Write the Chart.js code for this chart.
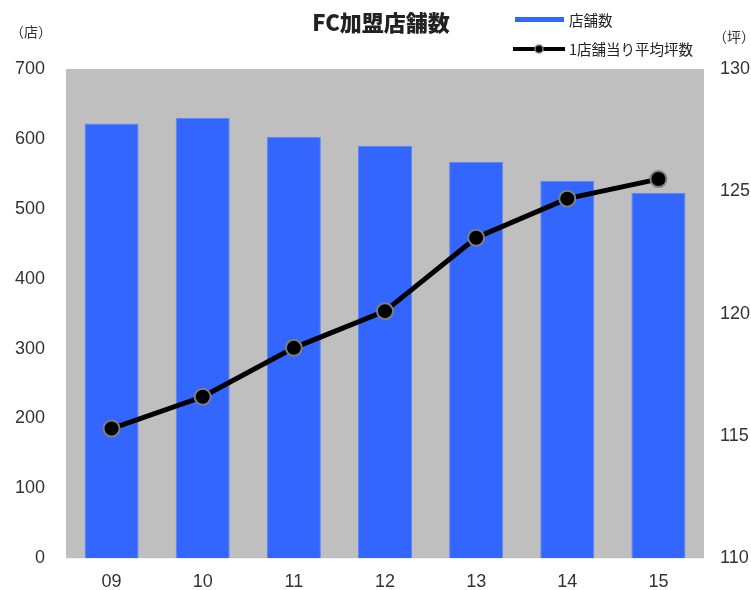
<!DOCTYPE html>
<html>
<head>
<meta charset="utf-8">
<script src="https://cdn.jsdelivr.net/npm/chart.js@4.4.1/dist/chart.umd.min.js"></script>
<style>
  html, body { margin: 0; padding: 0; background: #fff; }
  #wrap { position: relative; width: 751px; height: 590px; }
</style>
</head>
<body>
<div id="wrap"><canvas id="c" width="751" height="590"></canvas></div>
<script>
const title = 'FC加盟店舗数';
const categories = ['09', '10', '11', '12', '13', '14', '15'];
const storeLabel = '店舗数';
const storeCounts = [622, 630, 603, 590, 567, 540, 523];
const areaLabel = '1店舗当り平均坪数';
const avgArea = [115.3, 116.6, 118.6, 120.1, 123.1, 124.7, 125.5];
const leftUnit = '（店）';
const rightUnit = '（坪）';
const leftTicks = { min: 0, max: 700, step: 100 };
const rightTicks = { min: 110, max: 130, step: 5 };

const TICK_FONT = { family: "'Liberation Sans', Arial, sans-serif", size: 18 };
const JP_FONT = "'Noto Sans CJK JP', 'Noto Sans', sans-serif";

const decorPlugin = {
  id: 'decor',
  beforeDraw(chart) {
    const { ctx, chartArea: a } = chart;
    ctx.save();
    ctx.fillStyle = '#BFBFBF';
    ctx.fillRect(a.left, a.top, a.right - a.left, a.bottom - a.top);
    ctx.restore();
  },
  afterDraw(chart) {
    const { ctx } = chart;
    ctx.save();
    // title
    ctx.fillStyle = '#222';
    ctx.font = "900 22px " + JP_FONT;
    ctx.textAlign = 'center';
    ctx.textBaseline = 'middle';
    ctx.fillText(title, 381, 23);
    // units
    ctx.fillStyle = '#333';
    ctx.font = "14px " + JP_FONT;
    ctx.textAlign = 'left';
    ctx.fillText(leftUnit, 10, 32);
    ctx.fillText(rightUnit, 713, 37);
    // legend
    ctx.fillStyle = '#3366FF';
    ctx.fillRect(515, 17, 49, 5);
    ctx.strokeStyle = '#000';
    ctx.lineWidth = 4;
    ctx.beginPath();
    ctx.moveTo(513, 49);
    ctx.lineTo(565, 49);
    ctx.stroke();
    ctx.beginPath();
    ctx.arc(539, 49, 4, 0, Math.PI * 2);
    ctx.fillStyle = '#000';
    ctx.fill();
    ctx.lineWidth = 1.5;
    ctx.strokeStyle = '#808080';
    ctx.stroke();
    ctx.fillStyle = '#222';
    ctx.font = "14.5px " + JP_FONT;
    ctx.textAlign = 'left';
    ctx.textBaseline = 'middle';
    ctx.fillText(storeLabel, 569, 20);
    ctx.fillText(areaLabel, 569, 49);
    ctx.restore();
  }
};

new Chart(document.getElementById('c'), {
  type: 'bar',
  data: {
    labels: categories,
    datasets: [
      {
        type: 'line',
        label: areaLabel,
        data: avgArea,
        yAxisID: 'y1',
        order: 0,
        borderColor: '#000',
        borderWidth: 5,
        pointRadius: 8,
        pointBackgroundColor: '#000',
        pointBorderColor: '#7f7f7f',
        pointBorderWidth: 2,
        tension: 0,
        clip: false
      },
      {
        type: 'bar',
        label: storeLabel,
        data: storeCounts,
        yAxisID: 'y',
        order: 1,
        backgroundColor: '#3366FF',
        borderColor: '#5f86f5',
        borderWidth: 1,
        barPercentage: 0.593,
        categoryPercentage: 1.0
      }
    ]
  },
  options: {
    responsive: false,
    animation: false,
    events: [],
    layout: { padding: { top: 69, left: 0, right: 0, bottom: 0 } },
    plugins: {
      legend: { display: false },
      title: { display: false },
      tooltip: { enabled: false }
    },
    scales: {
      x: {
        grid: { display: false, drawTicks: false },
        border: { display: false },
        ticks: { color: '#333', font: TICK_FONT, padding: 13, maxRotation: 0 },
        afterFit(s) { s.height = 29; }
      },
      y: {
        position: 'left',
        min: leftTicks.min, max: leftTicks.max,
        grid: { display: false, drawTicks: false },
        border: { display: false },
        ticks: { stepSize: leftTicks.step, color: '#333', font: TICK_FONT, padding: 21 },
        afterFit(s) { s.width = 66; }
      },
      y1: {
        position: 'right',
        min: rightTicks.min, max: rightTicks.max,
        grid: { display: false, drawTicks: false },
        border: { display: false },
        ticks: { stepSize: rightTicks.step, color: '#333', font: TICK_FONT, padding: 16 },
        afterFit(s) { s.width = 47; }
      }
    }
  },
  plugins: [decorPlugin]
});
</script>
</body>
</html>
